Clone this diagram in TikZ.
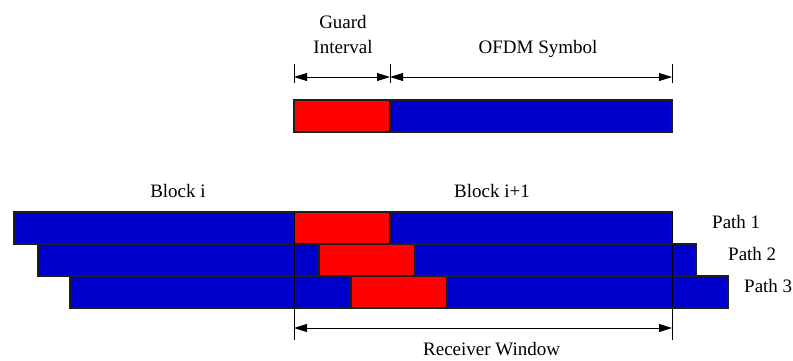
\documentclass[tikz,border=0pt]{standalone}
\usepackage{fontspec}
\setmainfont{Liberation Serif}
\usetikzlibrary{arrows.meta}
\definecolor{blk}{RGB}{0,0,204}
\definecolor{grd}{RGB}{255,0,0}
\definecolor{edge}{RGB}{30,30,30}
\begin{document}
\begin{tikzpicture}[x=1pt,y=-1pt,
  bar/.style={draw=edge,line width=1.1pt,inner sep=0pt,outer sep=0pt,anchor=north west,minimum height=32pt},
  blue/.style={bar,fill=blk},
  red/.style={bar,fill=grd},
  lbl/.style={inner sep=0pt,font=\fontsize{19}{22}\selectfont},
  tick/.style={draw=black,line width=0.8pt},
  dim/.style={draw=black,line width=0.8pt,{Triangle[length=13pt,width=8pt]}-{Triangle[length=13pt,width=8pt]}}]
\useasboundingbox (0,0) rectangle (793,360);
% top symbol
\node[red,minimum width=96pt] (tg) at (294,100) {};
\node[blue,minimum width=282pt] (ts) at (390,100) {};
% top dimension lines
\coordinate (t1a) at (294,64); \coordinate (t1b) at (294,83);
\coordinate (t2a) at (390,64); \coordinate (t2b) at (390,83);
\coordinate (t3a) at (672,64); \coordinate (t3b) at (672,83);
\draw[tick] (t1a) -- (t1b);
\draw[tick] (t2a) -- (t2b);
\draw[tick] (t3a) -- (t3b);
\coordinate (d1) at (294,77); \coordinate (d2) at (390,77); \coordinate (d3) at (672,77);
\draw[dim] (d1) -- (d2);
\draw[dim] (d2) -- (d3);
\node[lbl,anchor=base] (guard) at (343,28) {Guard};
\node[lbl,anchor=base] (interval) at (343,53) {Interval};
\node[lbl,anchor=base] (ofdm) at (538,53) {OFDM Symbol};
% block labels
\node[lbl,anchor=base] (bi) at (178,197) {Block i};
\node[lbl,anchor=base] (bi1) at (492,197) {Block i+1};
% path 1
\node[blue,minimum width=280pt] (p1a) at (14,212) {};
\node[red,minimum width=96pt] (p1g) at (294,212) {};
\node[blue,minimum width=282pt] (p1b) at (390,212) {};
% path 2
\node[blue,minimum width=281pt] (p2a) at (38,244) {};
\node[red,minimum width=96pt] (p2g) at (319,244) {};
\node[blue,minimum width=281pt] (p2b) at (415,244) {};
% path 3
\node[blue,minimum width=281pt] (p3a) at (70,276) {};
\node[red,minimum width=96pt] (p3g) at (351,276) {};
\node[blue,minimum width=281pt] (p3b) at (447,276) {};
\node[lbl,anchor=base west] (l1) at (712,228) {Path 1};
\node[lbl,anchor=base west] (l2) at (728,260) {Path 2};
\node[lbl,anchor=base west] (l3) at (744,292) {Path 3};
% receiver window
\coordinate (r1a) at (294,212); \coordinate (r1b) at (294,340);
\coordinate (r2a) at (672,212); \coordinate (r2b) at (672,340);
\draw[tick] (r1a) -- (r1b);
\draw[tick] (r2a) -- (r2b);
\coordinate (ra) at (294,328); \coordinate (rb) at (672,328);
\draw[dim] (ra) -- (rb);
\node[lbl,anchor=base west] (rw) at (423,355) {Receiver Window};
\end{tikzpicture}
\end{document}
